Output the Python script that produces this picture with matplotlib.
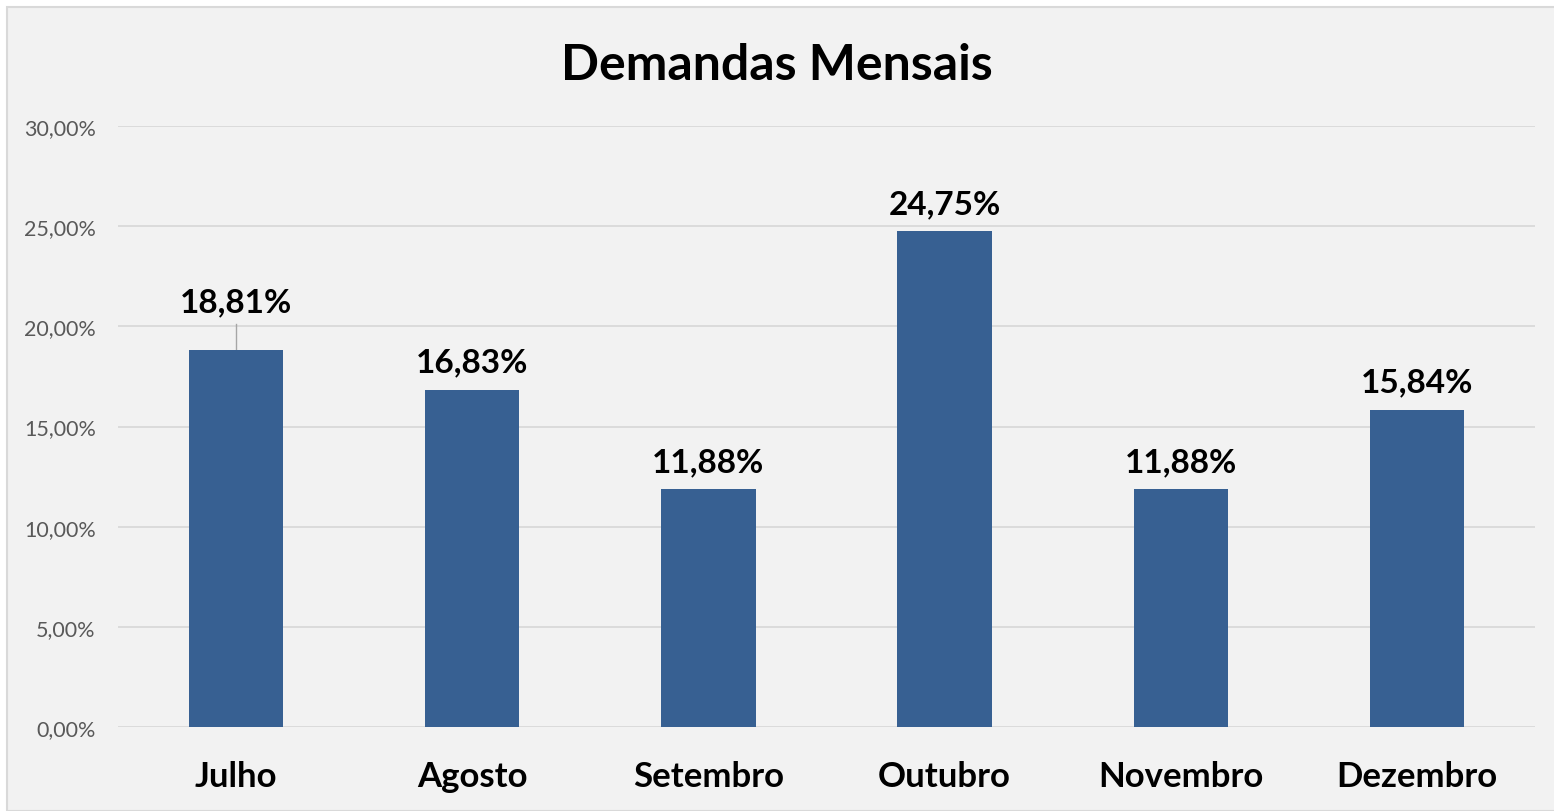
import matplotlib
matplotlib.use("Agg")
import matplotlib.pyplot as plt
from matplotlib.patches import Rectangle
from matplotlib.ticker import FuncFormatter

plt.rcParams['font.family'] = ['Lato', 'DejaVu Sans']

# === dados ===
meses = ['Julho', 'Agosto', 'Setembro', 'Outubro', 'Novembro', 'Dezembro']
valores = [18.81, 16.83, 11.88, 24.75, 11.88, 15.84]
rotulos = ['18,81%', '16,83%', '11,88%', '24,75%', '11,88%', '15,84%']
yticks = [0, 5, 10, 15, 20, 25, 30]

bar_color = '#376092'
bg = '#f2f2f2'

fig = plt.figure(figsize=(15.54, 8.12), dpi=100, facecolor='white')
# moldura do gráfico
fig.patches.append(Rectangle((7 / 1554, 0), 1 - 7 / 1554 + 0.01, 1 - 8 / 812,
                             transform=fig.transFigure, facecolor=bg,
                             edgecolor='#d9d9d9', linewidth=1.5, zorder=-1))

ax = fig.add_axes([118 / 1554, (812 - 728) / 812, (1535 - 118) / 1554, (728 - 127) / 812])
ax.set_facecolor(bg)
ax.patch.set_alpha(0)

x = range(len(meses))
ax.bar(x, valores, width=0.4, color=bar_color, zorder=3)
ax.set_xlim(-0.5, len(meses) - 0.5)
ax.set_ylim(0, 30)
ax.set_yticks(yticks)
ax.yaxis.set_major_formatter(FuncFormatter(lambda v, p: f'{v:.2f}%'.replace('.', ',')))
ax.grid(axis='y', color='#d9d9d9', linewidth=1.3, zorder=0)
ax.tick_params(axis='y', length=0, labelsize=15.5, labelcolor='#595959', pad=16)
ax.tick_params(axis='x', length=0, pad=24)
ax.set_xticks(list(x))
ax.set_xticklabels(meses, fontsize=25, fontweight='bold')
for s in ax.spines.values():
    s.set_visible(False)

# rótulos de dados
for i, (v, r) in enumerate(zip(valores, rotulos)):
    if i == 0:
        # rótulo deslocado com linha de chamada
        ax.plot([i, i], [v, 20.1], color='#a6a6a6', linewidth=1, zorder=2)
        ax.text(i, 20.77, r, ha='center', va='baseline', fontsize=24, fontweight='bold')
    else:
        ax.text(i, v + 0.9, r, ha='center', va='baseline', fontsize=24, fontweight='bold')

fig.text(0.5, 1 - 65 / 812, 'Demandas Mensais', ha='center', va='center',
         fontsize=36, fontweight='bold')

fig.savefig('out.png', dpi=100, facecolor='white')
